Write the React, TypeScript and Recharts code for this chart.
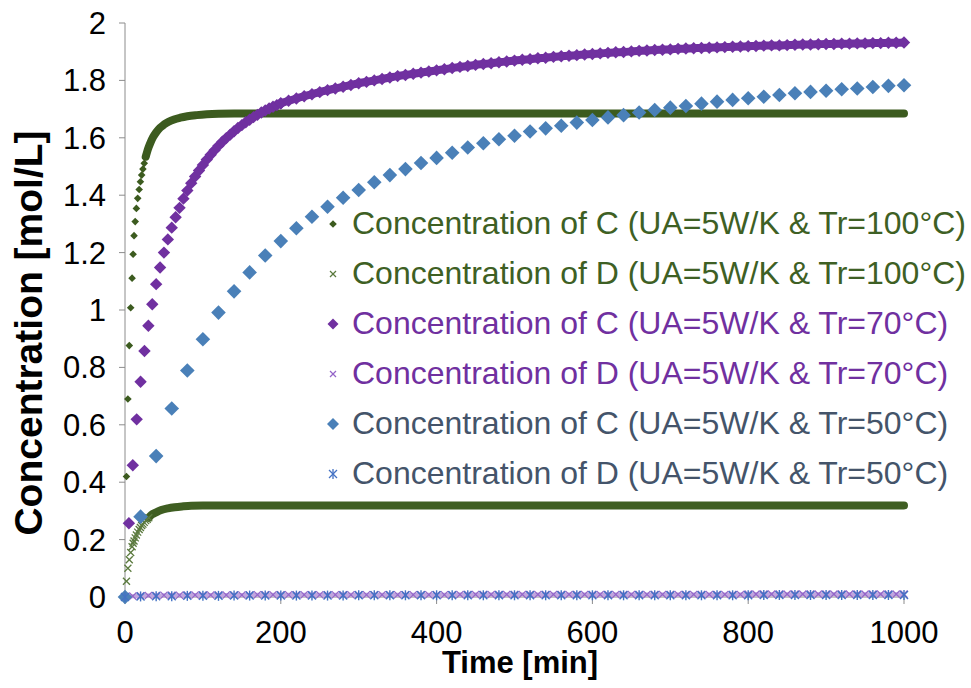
import React from 'react';
import { ScatterChart, Scatter, XAxis, YAxis, Legend } from 'recharts';

const FONT = '"Liberation Sans", Arial, Helvetica, sans-serif';

// ---------- axis ticks ----------
const xTicks = [0, 200, 400, 600, 800, 1000];
const yTicks = [0, 0.2, 0.4, 0.6, 0.8, 1, 1.2, 1.4, 1.6, 1.8, 2];

// ---------- C at 100°C (early distinct diamonds + plateau band) ----------
const c100Time = [0, 1.9, 3.7, 5.5, 7.3, 9.1, 10.4, 11.6, 13.1, 14.6, 16.3, 18.2, 19.8, 21.4, 23.0, 24.7, 26.6];
const c100Vals = [0, 0.42, 0.69, 0.876, 1.008, 1.111, 1.194, 1.259, 1.308, 1.354, 1.389, 1.42, 1.447, 1.47, 1.491, 1.511, 1.534];
const c100BandTime = [26.6, 28.5, 30.5, 33, 36, 40, 45, 50, 56, 63, 71, 80, 92, 105, 120, 140, 200, 300, 400, 500, 600, 700, 800, 900, 1000];
const c100BandVals = [1.534, 1.552, 1.568, 1.585, 1.602, 1.619, 1.635, 1.646, 1.656, 1.664, 1.67, 1.675, 1.679, 1.682, 1.684, 1.685, 1.685, 1.685, 1.685, 1.685, 1.685, 1.685, 1.685, 1.685, 1.685];

// ---------- D at 100°C ----------
const d100Time = [0, 1.9, 3.7, 5.5, 7.3, 9.1, 10.4, 11.6, 13.1, 14.6, 16.3, 18.2, 19.8, 21.4, 23.0, 24.7, 26.6, 28.5, 30.5];
const d100Vals = [0, 0.055, 0.1, 0.13, 0.155, 0.175, 0.187, 0.195, 0.206, 0.216, 0.226, 0.235, 0.242, 0.249, 0.254, 0.26, 0.266, 0.271, 0.276];
const d100BandTime = [30.5, 33.8, 40, 46.6, 55, 63.8, 75, 85, 100, 120, 200, 300, 400, 500, 600, 700, 800, 900, 1000];
const d100BandVals = [0.276, 0.286, 0.295, 0.303, 0.309, 0.313, 0.316, 0.318, 0.319, 0.319, 0.319, 0.319, 0.319, 0.319, 0.319, 0.319, 0.319, 0.319, 0.319];

// ---------- C at 70°C ----------
const c70EarlyTime = [0, 5, 10, 15, 20, 25, 30, 35, 40, 45, 50, 55, 60, 65, 70, 75, 80, 85, 90, 95, 100,
  105, 110, 115, 120, 125, 130, 135, 140, 145, 150, 155, 160, 165, 170, 175, 180, 185, 190, 195, 200];
const c70EarlyVals = [0, 0.257, 0.459, 0.619, 0.75, 0.857, 0.945, 1.02, 1.09, 1.148, 1.2, 1.246, 1.287, 1.323, 1.356, 1.388, 1.416, 1.442, 1.465, 1.486, 1.505,
  1.524, 1.541, 1.557, 1.572, 1.586, 1.599, 1.611, 1.623, 1.634, 1.644, 1.654, 1.663, 1.672, 1.68, 1.688, 1.695, 1.702, 1.708, 1.714, 1.72];
const c70LateTime = [200, 210, 220, 230, 240, 250, 260, 270, 280, 290, 300, 310, 320, 330, 340, 350, 360, 370, 380, 390, 400,
  410, 420, 430, 440, 450, 460, 470, 480, 490, 500, 510, 520, 530, 540, 550, 560, 570, 580, 590, 600,
  610, 620, 630, 640, 650, 660, 670, 680, 690, 700, 710, 720, 730, 740, 750, 760, 770, 780, 790, 800,
  810, 820, 830, 840, 850, 860, 870, 880, 890, 900, 910, 920, 930, 940, 950, 960, 970, 980, 990, 1000];
const c70LateVals = [1.72, 1.729, 1.737, 1.745, 1.752, 1.759, 1.766, 1.772, 1.778, 1.784, 1.79, 1.795, 1.8, 1.805, 1.81, 1.815, 1.819, 1.823, 1.827, 1.831, 1.835,
  1.839, 1.843, 1.847, 1.85, 1.854, 1.857, 1.86, 1.863, 1.866, 1.869, 1.872, 1.874, 1.877, 1.879, 1.882, 1.884, 1.886, 1.888, 1.89, 1.892,
  1.894, 1.896, 1.898, 1.899, 1.901, 1.903, 1.904, 1.906, 1.907, 1.908, 1.91, 1.911, 1.912, 1.913, 1.914, 1.915, 1.916, 1.917, 1.918, 1.919,
  1.92, 1.921, 1.922, 1.922, 1.923, 1.924, 1.925, 1.925, 1.926, 1.927, 1.927, 1.928, 1.928, 1.929, 1.929, 1.93, 1.93, 1.931, 1.931, 1.932];

// ---------- D at 70°C (step 10 min) ----------
const d70Vals = [0, 0.003, 0.004, 0.005, 0.005, 0.006, 0.006, 0.006, 0.007, 0.007,
  0.007, 0.007, 0.007, 0.007, 0.007, 0.007, 0.007, 0.008, 0.008, 0.008,
  0.008, 0.008, 0.008, 0.008, 0.008, 0.008, 0.008, 0.008, 0.008, 0.008,
  0.008, 0.008, 0.008, 0.008, 0.008, 0.008, 0.008, 0.008, 0.008, 0.008,
  0.008, 0.008, 0.008, 0.009, 0.009, 0.009, 0.009, 0.009, 0.009, 0.009,
  0.009, 0.009, 0.009, 0.009, 0.009, 0.009, 0.009, 0.009, 0.009, 0.009,
  0.009, 0.009, 0.009, 0.009, 0.009, 0.009, 0.009, 0.009, 0.009, 0.009,
  0.009, 0.009, 0.009, 0.009, 0.009, 0.009, 0.009, 0.009, 0.009, 0.009,
  0.01, 0.01, 0.01, 0.01, 0.01, 0.01, 0.01, 0.01, 0.01, 0.01,
  0.01, 0.01, 0.01, 0.01, 0.01, 0.01, 0.01, 0.01, 0.01, 0.01, 0.01];

// ---------- C at 50°C (step 20 min) ----------
const c50Vals = [0, 0.28, 0.491, 0.657, 0.789, 0.898, 0.991, 1.065, 1.131, 1.19, 1.24,
  1.285, 1.325, 1.36, 1.391, 1.418, 1.445, 1.47, 1.491, 1.512, 1.53,
  1.548, 1.566, 1.581, 1.595, 1.607, 1.622, 1.633, 1.642, 1.653, 1.662,
  1.671, 1.679, 1.688, 1.697, 1.705, 1.711, 1.719, 1.726, 1.732, 1.738,
  1.743, 1.749, 1.755, 1.76, 1.764, 1.769, 1.772, 1.777, 1.781, 1.783];

// ---------- D at 50°C (step 20 min) ----------
const d50Vals = [0, 0.002, 0.003, 0.003, 0.004, 0.004, 0.004, 0.005, 0.005, 0.005, 0.005,
  0.005, 0.005, 0.005, 0.005, 0.006, 0.006, 0.006, 0.006, 0.006, 0.006,
  0.006, 0.006, 0.006, 0.006, 0.006, 0.006, 0.006, 0.006, 0.006, 0.006,
  0.006, 0.006, 0.006, 0.006, 0.006, 0.006, 0.006, 0.006, 0.006, 0.006,
  0.007, 0.007, 0.007, 0.007, 0.007, 0.007, 0.007, 0.007, 0.007, 0.007];

const legendLabels = [
  'Concentration of C (UA=5W/K & Tr=100°C)',
  'Concentration of D (UA=5W/K & Tr=100°C)',
  'Concentration of C (UA=5W/K & Tr=70°C)',
  'Concentration of D (UA=5W/K & Tr=70°C)',
  'Concentration of C (UA=5W/K & Tr=50°C)',
  'Concentration of D (UA=5W/K & Tr=50°C)',
];

// ---------- colours ----------
const GREEN = '#3C5B1F';
const GREEN_X = '#5B7A3E';
const PURPLE = '#7030A0';
const PURPLE_X = '#9466C8';
const PURPLE_BAND = '#C1A6DF';
const BLUE = '#4A80B8';
const BLUE_AST = '#4472C4';
const GREEN_TXT = '#3E6024';
const PURPLE_TXT = '#7030A0';
const BLUE_TXT = '#44546A';

const grid = (n: number, step: number) => Array.from({ length: n }, (_, i) => i * step);
const zip = (ts: number[], ys: number[]) => ts.map((t, i) => ({ t, y: ys[i] }));

const c100Data = zip(c100Time, c100Vals);
const c100BandData = zip(c100BandTime, c100BandVals);
const d100Data = zip(d100Time, d100Vals);
const d100BandData = zip(d100BandTime, d100BandVals);
const c70EarlyData = zip(c70EarlyTime, c70EarlyVals);
const c70LateData = zip(c70LateTime, c70LateVals);
const d70Data = zip(grid(d70Vals.length, 10), d70Vals);
const c50Data = zip(grid(c50Vals.length, 20), c50Vals);
const d50Data = zip(grid(d50Vals.length, 20), d50Vals);

// ---------- marker drawing ----------
const diamondEl = (cx: number, cy: number, h: number, color: string) => (
  <polygon points={`${cx},${cy - h} ${cx + h},${cy} ${cx},${cy + h} ${cx - h},${cy}`} fill={color} />
);
const crossEl = (cx: number, cy: number, h: number, color: string, w: number) => (
  <g stroke={color} strokeWidth={w}>
    <line x1={cx - h} y1={cy - h} x2={cx + h} y2={cy + h} />
    <line x1={cx - h} y1={cy + h} x2={cx + h} y2={cy - h} />
  </g>
);
const asteriskEl = (cx: number, cy: number, h: number, color: string, w: number) => (
  <g stroke={color} strokeWidth={w}>
    <line x1={cx - h * 0.8} y1={cy - h * 0.8} x2={cx + h * 0.8} y2={cy + h * 0.8} />
    <line x1={cx - h * 0.8} y1={cy + h * 0.8} x2={cx + h * 0.8} y2={cy - h * 0.8} />
    <line x1={cx} y1={cy - h} x2={cx} y2={cy + h} />
  </g>
);

const diamondShape = (h: number, color: string) => (p: any) =>
  p.cx == null ? <g /> : diamondEl(p.cx, p.cy, h, color);
const crossShape = (h: number, color: string, w: number) => (p: any) =>
  p.cx == null ? <g /> : crossEl(p.cx, p.cy, h, color, w);
const asteriskShape = (h: number, color: string, w: number) => (p: any) =>
  p.cx == null ? <g /> : asteriskEl(p.cx, p.cy, h, color, w);
const noShape = () => <g />;

const legendMarkers = [
  diamondEl(12, 12, 3.8, GREEN),
  crossEl(12, 12, 3, GREEN_X, 1.2),
  diamondEl(12, 12, 5.5, PURPLE),
  crossEl(12, 12, 3, PURPLE_X, 1.2),
  diamondEl(12, 12, 6, BLUE),
  asteriskEl(12, 12, 5, BLUE_AST, 1.3),
];
const legendColors = [GREEN_TXT, GREEN_TXT, PURPLE_TXT, PURPLE_TXT, BLUE_TXT, BLUE_TXT];

const LegendContent = () => (
  <div style={{ fontFamily: FONT, fontSize: 32 }}>
    {legendLabels.map((label, i) => (
      <div key={label} style={{ height: 50, display: 'flex', alignItems: 'center', whiteSpace: 'nowrap' }}>
        <svg width={24} height={24} style={{ marginRight: 7, flex: 'none' }}>{legendMarkers[i]}</svg>
        <span style={{ color: legendColors[i] }}>{label}</span>
      </div>
    ))}
  </div>
);

const fmt = (v: number) => String(Number(v.toFixed(1)));

export default function App() {
  return (
    <div style={{ position: 'absolute', left: 0, top: 0, width: 971, height: 688, background: '#fff' }}>
      <ScatterChart width={971} height={688} margin={{ top: 23, right: 67, bottom: 31, left: 0 }}
        style={{ fontFamily: FONT }}>
        <XAxis type="number" dataKey="t" domain={[0, 1000]} ticks={xTicks} height={60}
          tickSize={7} tickMargin={17} stroke="#8C8C8C" interval={0}
          tick={{ fill: '#000', fontSize: 31, fontFamily: FONT }}
          axisLine={{ stroke: '#8C8C8C' }} tickLine={{ stroke: '#8C8C8C' }}
          label={{
            content: () => (
              <text x={520} y={673} textAnchor="middle" fontWeight="bold" fontSize={31} fontFamily={FONT} fill="#000">Time [min]</text>
            ),
          }} />
        <YAxis type="number" dataKey="y" domain={[0, 2]} ticks={yTicks} width={125}
          tickSize={6} tickMargin={13} interval={0} tickFormatter={fmt}
          tick={{ fill: '#000', fontSize: 31, fontFamily: FONT }}
          axisLine={{ stroke: '#8C8C8C' }} tickLine={{ stroke: '#8C8C8C' }}
          label={{
            content: () => (
              <text x={42} y={333} transform="rotate(-90, 42, 333)" textAnchor="middle" fontWeight="bold" fontSize={39} fontFamily={FONT} fill="#000">Concentration [mol/L]</text>
            ),
          }} />
        <Legend layout="vertical" align="center" verticalAlign="middle" content={LegendContent}
          wrapperStyle={{ left: 321, top: 198.5, width: 650, height: 300 }} />

        <Scatter data={c100BandData} fill={GREEN} shape={noShape} line={{ stroke: GREEN, strokeWidth: 8, strokeLinecap: 'round', strokeLinejoin: 'round' }} lineJointType="monotoneX" isAnimationActive={false} />
        <Scatter data={c100Data} fill={GREEN} shape={diamondShape(3.8, GREEN)} isAnimationActive={false} />
        <Scatter data={d100BandData} fill={GREEN} shape={noShape} line={{ stroke: '#3F5E22', strokeWidth: 8, strokeLinecap: 'round', strokeLinejoin: 'round' }} lineJointType="monotoneX" isAnimationActive={false} />
        <Scatter data={d100Data} fill={GREEN_X} shape={crossShape(3.5, GREEN_X, 1.3)} isAnimationActive={false} />
        <Scatter data={c70EarlyData} fill={PURPLE} shape={diamondShape(6.2, PURPLE)} isAnimationActive={false} />
        <Scatter data={c70LateData} fill={PURPLE} shape={diamondShape(6.2, PURPLE)} line={{ stroke: PURPLE, strokeWidth: 8, strokeLinecap: 'round', strokeLinejoin: 'round' }} lineJointType="monotoneX" isAnimationActive={false} />
        <Scatter data={d70Data} fill={PURPLE_X} shape={crossShape(3.6, PURPLE_X, 1.2)} line={{ stroke: PURPLE_BAND, strokeWidth: 4 }} lineJointType="monotoneX" isAnimationActive={false} />
        <Scatter data={c50Data} fill={BLUE} shape={diamondShape(7.3, BLUE)} isAnimationActive={false} />
        <Scatter data={d50Data} fill={BLUE_AST} shape={asteriskShape(5, BLUE_AST, 1.4)} isAnimationActive={false} />
      </ScatterChart>
    </div>
  );
}
